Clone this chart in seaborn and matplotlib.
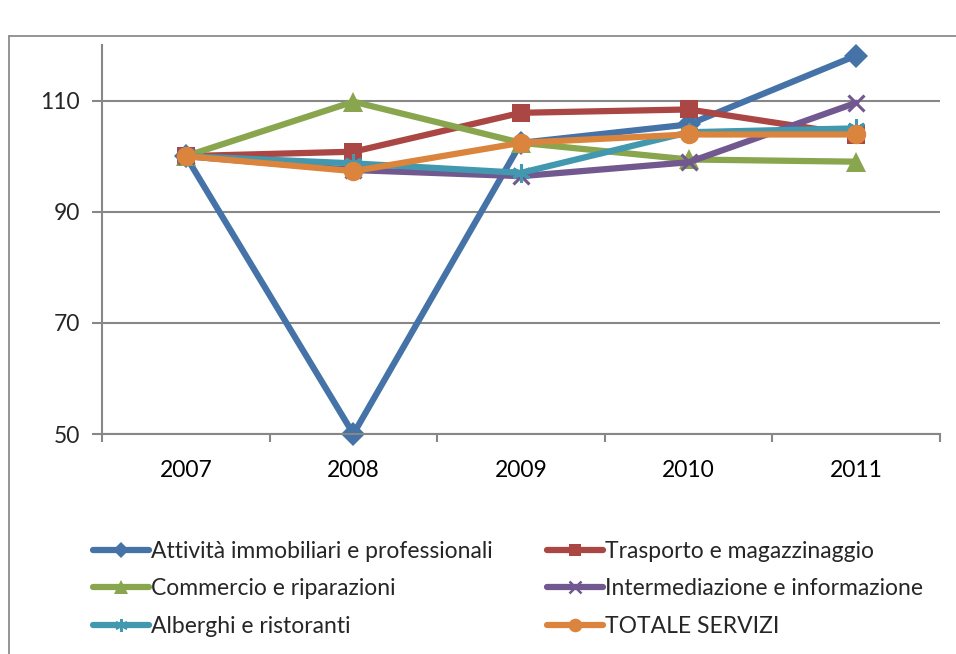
import numpy as np
import pandas as pd
import matplotlib
matplotlib.use("Agg")
import matplotlib.pyplot as plt
from matplotlib.lines import Line2D
import seaborn as sns

# ------------------------------------------
# dati (indice 2007 = 100)
# ------------------------------------------
anni = [2007, 2008, 2009, 2010, 2011]
attivita = [100, 50, 102.4, 105.7, 118.1]
trasporto = [100, 100.8, 107.8, 108.4, 103.8]
commercio = [100, 109.8, 102.4, 99.4, 99.0]
intermediazione = [100, 97.5, 96.4, 98.9, 109.6]
alberghi = [100, 98.7, 97.0, 104.3, 105.0]
totale = [100, 97.3, 102.4, 103.9, 103.9]

serie = ["Attività immobiliari e professionali", "Trasporto e magazzinaggio",
         "Commercio e riparazioni", "Intermediazione e informazione",
         "Alberghi e ristoranti", "TOTALE SERVIZI"]
valori = [attivita, trasporto, commercio, intermediazione, alberghi, totale]
colori = ["#4572A7", "#AA4643", "#89A54E", "#71588F", "#4198AF", "#DB843D"]
marker = ["D", "s", "^", "x", (6, 2, 0), "o"]
msize = [12, 13, 14, 12, 13, 14]

df = pd.DataFrame({
    "anno": np.tile(anni, len(serie)),
    "valore": np.concatenate(valori),
    "serie": np.repeat(serie, len(anni)),
})

sns.set_theme(style="white")
plt.rcParams["font.family"] = ["Lato", "DejaVu Sans"]
grigio = "#878787"
fs = 16.5

fig = plt.figure(figsize=(9.56, 6.54), dpi=100)
ax = fig.add_axes([102 / 956, 1 - 434 / 654, (940 - 102) / 956, (434 - 45) / 654])

handles = []
for s, c, m, ms in zip(serie, colori, marker, msize):
    sub = df[df["serie"] == s]
    sns.lineplot(data=sub, x="anno", y="valore", color=c, marker=m, markersize=ms,
                 markeredgecolor=c, markeredgewidth=2.2 if m in ("x", (6, 2, 0)) else 0,
                 linewidth=4.5, ax=ax, legend=False, clip_on=False)
    handles.append(Line2D([], [], color=c, marker=m, markersize=ms * 0.7, linewidth=4.5,
                          markeredgecolor=c,
                          markeredgewidth=1.8 if m in ("x", (6, 2, 0)) else 0))

ax.set_xlim(2006.5, 2011.5)
ax.set_ylim(50, 120)
ax.set_yticks([50, 70, 90, 110])
ax.set_xticks(anni)
ax.set_xticklabels([str(a) for a in anni])
ax.set_xticks(np.arange(2006.5, 2012, 1), minor=True)
ax.set_xlabel("")
ax.set_ylabel("")
ax.grid(axis="y", color=grigio, linewidth=1.5)
ax.set_axisbelow(True)
for sp in ["top", "right"]:
    ax.spines[sp].set_visible(False)
for sp in ["left", "bottom"]:
    ax.spines[sp].set_color(grigio)
    ax.spines[sp].set_linewidth(1.5)
ax.tick_params(axis="x", which="major", length=0, labelsize=fs, pad=19, colors="black")
ax.tick_params(axis="x", which="minor", length=6, width=1.5, color=grigio, bottom=True)
ax.tick_params(axis="y", length=7, width=1.5, color=grigio, labelsize=fs, pad=9, left=True)

# legenda in due colonne, ordine per righe
ordine = [0, 2, 4, 1, 3, 5]
fig.legend([handles[i] for i in ordine], [serie[i] for i in ordine],
           loc="upper left", bbox_to_anchor=(72 / 956, 1 - 520 / 654), ncol=2,
           frameon=False, fontsize=fs, handlelength=2.45, handletextpad=0.1,
           columnspacing=2.35, labelspacing=0.73)

# cornice dell'area grafico
fig.add_artist(Line2D([9 / 956, 9 / 956], [0, 1 - 36 / 654], color="#8c8c8c", linewidth=1.3,
                      transform=fig.transFigure))
fig.add_artist(Line2D([9 / 956, 1], [1 - 36 / 654, 1 - 36 / 654], color="#8c8c8c",
                      linewidth=1.3, transform=fig.transFigure))

fig.savefig("out.png", dpi=100)
